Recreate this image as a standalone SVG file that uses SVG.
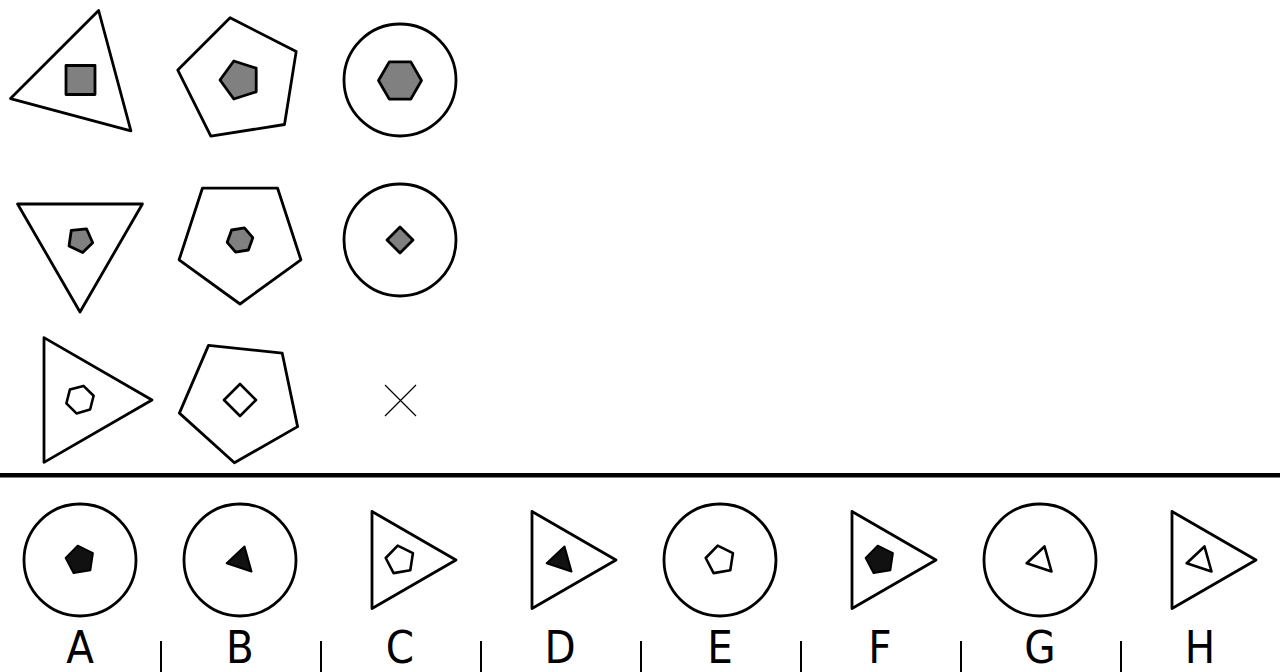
<svg xmlns="http://www.w3.org/2000/svg" width="1280" height="672" viewBox="0 0 1280 672">
<style>
.o{fill:#fff;stroke:#000;stroke-width:2.8;stroke-linejoin:round}
.g{fill:#808080;stroke:#000;stroke-width:2.8;stroke-linejoin:round}
.w{fill:#fff;stroke:#000;stroke-width:2.6;stroke-linejoin:round}
.k{fill:#111;stroke:#000;stroke-width:2;stroke-linejoin:round}
.lbl{font-family:"DejaVu Sans Condensed","DejaVu Sans","Liberation Sans",sans-serif;font-stretch:condensed;font-size:45px;fill:#000;text-anchor:middle}
</style>
<rect width="1280" height="672" fill="#fff"/>
<g id="r1c1">
<polygon class="o" points="98.6,10.5 10.5,98.6 130.9,130.9"/>
<rect class="g" x="66" y="65.5" width="29" height="29"/>
</g>
<g id="r1c2">
<polygon class="o" points="230.1,17.8 296.2,51.4 284.5,124.5 210.8,136.2 177.8,70.1"/>
<polygon class="g" points="220,80 233.8,61 256.2,68.2 256.2,91.8 233.8,99"/>
</g>
<g id="r1c3">
<circle class="o" cx="400" cy="80" r="56"/>
<polygon class="g" points="421.5,80.5 410.8,99.1 389.3,99.1 378.5,80.5 389.3,61.9 410.8,61.9"/>
</g>
<g id="r2c1">
<polygon class="o" points="17.6,204 142.4,204 80,312"/>
<polygon class="g" points="71.3,230.3 86.5,228.8 92.7,242.7 82.7,252.6 69,246"/>
</g>
<g id="r2c2">
<polygon class="o" points="240,304 179.1,259.8 202.4,188.2 277.6,188.2 300.9,259.8"/>
<polygon class="g" points="231.6,230 244.4,227.8 252.8,237.7 248.4,250 235.6,252.2 227.2,242.3"/>
</g>
<g id="r2c3">
<circle class="o" cx="400" cy="240" r="56"/>
<polygon class="g" points="400,227 413,240 400,253 387,240"/>
</g>
<g id="r3c1">
<polygon class="o" points="44,337.6 152,400 44,462.4"/>
<polygon class="w" points="69.9,389.6 83.5,385.9 93.6,395.8 90.1,409.5 76.5,413.4 66.4,403.3"/>
</g>
<g id="r3c2">
<polygon class="o" points="208.5,345.4 282.2,353.2 297.6,426.6 234.4,462.8 179.4,413.1"/>
<polygon class="w" points="240,384 256,400 240,416 224,400"/>
</g>
<g id="r3c3">
<path d="M385,385 L416,416 M416,385 L385,416" stroke="#000" stroke-width="1.2" fill="none"/>
</g>
<g id="connectors">
<rect x="0" y="473" width="1280" height="4.5" fill="#000"/>
<path d="M161,641V672M321,641V672M481,641V672M641,641V672M801,641V672M961,641V672M1121,641V672" stroke="#000" stroke-width="2"/>
</g>
<g id="optA">
<circle class="o" cx="80" cy="560" r="56"/>
<polygon class="k" points="77.7,545.7 92.9,553.2 90.3,570.3 73.6,573.1 65.7,558"/>
<text class="lbl" x="80" y="663">A</text>
</g>
<g id="optB">
<circle class="o" cx="240" cy="560" r="56"/>
<polygon class="k" points="244.5,546.5 251.5,571.5 226.7,563.3"/>
<text class="lbl" x="240" y="663">B</text>
</g>
<g id="optC">
<polygon class="o" points="372,511.5 456,560 372,608.5"/>
<polygon class="w" points="397.7,545.7 412.9,553.2 410.3,570.3 393.6,573.1 385.7,558"/>
<text class="lbl" x="400" y="663">C</text>
</g>
<g id="optD">
<polygon class="o" points="532,511.5 616,560 532,608.5"/>
<polygon class="k" points="564.5,546.5 571.5,571.5 546.7,563.3"/>
<text class="lbl" x="560" y="663">D</text>
</g>
<g id="optE">
<circle class="o" cx="720" cy="560" r="56"/>
<polygon class="w" points="717.7,545.7 732.9,553.2 730.3,570.3 713.6,573.1 705.7,558"/>
<text class="lbl" x="720" y="663">E</text>
</g>
<g id="optF">
<polygon class="o" points="852,511.5 936,560 852,608.5"/>
<polygon class="k" points="877.7,545.7 892.9,553.2 890.3,570.3 873.6,573.1 865.7,558"/>
<text class="lbl" x="880" y="663">F</text>
</g>
<g id="optG">
<circle class="o" cx="1040" cy="560" r="56"/>
<polygon class="w" points="1044.5,546.5 1051.5,571.5 1026.7,563.3"/>
<text class="lbl" x="1040" y="663">G</text>
</g>
<g id="optH">
<polygon class="o" points="1172,511.5 1256,560 1172,608.5"/>
<polygon class="w" points="1204.5,546.5 1211.5,571.5 1186.7,563.3"/>
<text class="lbl" x="1200" y="663">H</text>
</g>
</svg>
